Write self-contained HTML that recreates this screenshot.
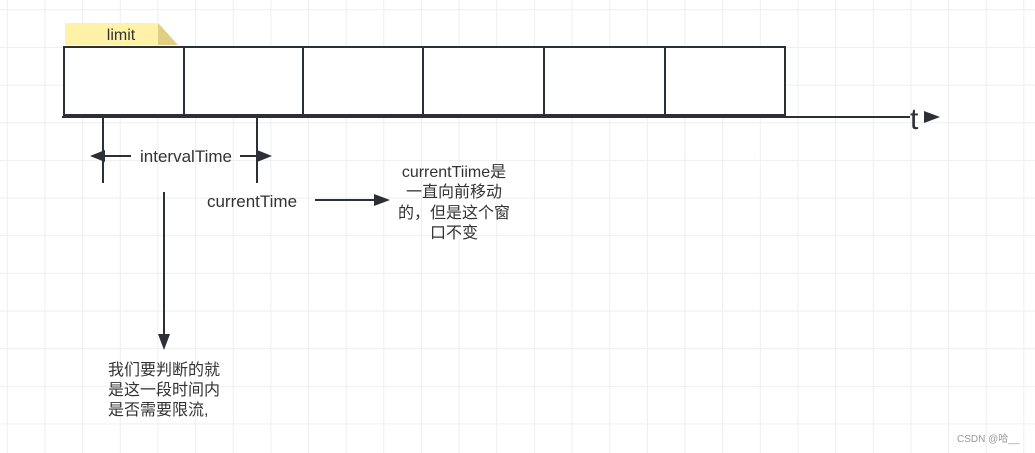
<!DOCTYPE html>
<html><head><meta charset="utf-8"><style>
html,body{margin:0;padding:0;background:#fff;}
svg{display:block;}
text{font-family:"Liberation Sans","Noto Sans CJK SC",sans-serif;fill:#333;}
</style></head><body>
<svg width="1035" height="453" viewBox="0 0 1035 453" xmlns="http://www.w3.org/2000/svg">
<defs>
<pattern id="g" x="6.8" y="9.3" width="37.65" height="37.65" patternUnits="userSpaceOnUse">
<path d="M0 0.5H37.65M0.5 0V37.65" stroke="#eeeeee" stroke-width="1" fill="none"/>
</pattern>
</defs>
<rect width="1035" height="453" fill="url(#g)"/>
<polygon points="65,23 158,23 178,45 65,45" fill="#fff2a8"/>
<polygon points="158,23 178,45 158,45" fill="#e0cf82"/>
<text x="121" y="40" font-size="16" text-anchor="middle">limit</text>
<g stroke="#2b3036" stroke-width="2" fill="#fff">
<rect x="64" y="47" width="721" height="68"/>
</g>
<g stroke="#2b3036" stroke-width="2">
<line x1="184" y1="47" x2="184" y2="115"/>
<line x1="303" y1="47" x2="303" y2="115"/>
<line x1="423" y1="47" x2="423" y2="115"/>
<line x1="544" y1="47" x2="544" y2="115"/>
<line x1="665" y1="47" x2="665" y2="115"/>
<line x1="62" y1="117" x2="910" y2="117"/>
<line x1="103" y1="117" x2="103" y2="183"/>
<line x1="257" y1="117" x2="257" y2="183"/>
<line x1="103" y1="156" x2="131" y2="156"/>
<line x1="240" y1="156" x2="258" y2="156"/>
<line x1="164" y1="192" x2="164" y2="335"/>
<line x1="315" y1="200" x2="375" y2="200"/>
</g>
<g fill="#2b3036">
<polygon points="90,156 105,150 105,162"/>
<polygon points="272,156 257,150 257,162"/>
<polygon points="940,117 924,111 924,123"/>
<polygon points="164,350 158,334 170,334"/>
<polygon points="390,200 374,194 374,206"/>
</g>
<text x="910" y="129" font-size="30" style="fill:#2b3036">t</text>
<text x="186" y="162" font-size="17" text-anchor="middle">intervalTime</text>
<text x="252" y="207" font-size="17" text-anchor="middle">currentTime</text>
<g font-size="16" text-anchor="middle">
<text x="454" y="177">currentTiime是</text>
<text x="454" y="197">一直向前移动</text>
<text x="454" y="218">的，但是这个窗</text>
<text x="454" y="238">口不变</text>
</g>
<g font-size="16">
<text x="108" y="375">我们要判断的就</text>
<text x="108" y="395">是这一段时间内</text>
<text x="108" y="415">是否需要限流,</text>
</g>
<text x="957" y="442" font-size="10" style="fill:#999">CSDN @哈__</text>
</svg>
</body></html>
